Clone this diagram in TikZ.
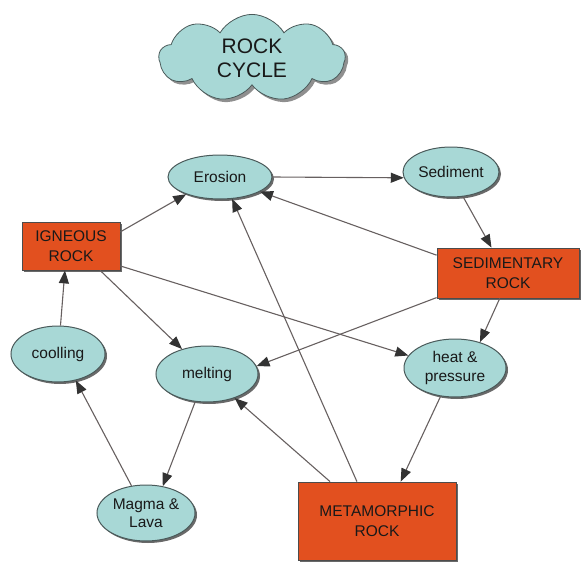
\documentclass[tikz,border=0pt]{standalone}
\usepackage{fontspec}
\setmainfont{Liberation Sans}
\usetikzlibrary{shapes.geometric,shapes.symbols,arrows.meta,shadows}
\definecolor{teal1}{HTML}{A8D8D6}
\definecolor{orng}{HTML}{E2501F}
\definecolor{edgec}{HTML}{676060}
\definecolor{bord}{HTML}{4A5A5A}
\tikzset{
  oval/.style={ellipse, draw=bord, line width=1pt, fill=teal1, inner sep=0pt,
    align=center, font=\fontsize{15.5}{18.5}\selectfont, text=black!90,
    drop shadow={shadow xshift=2pt, shadow yshift=-2pt, fill=black!65, opacity=0.9}},
  rockbox/.style={rectangle, draw=black!70, line width=0.8pt, fill=orng, inner sep=0pt,
    align=center, font=\fontsize{15.5}{20}\selectfont, text=black!90,
    drop shadow={shadow xshift=2pt, shadow yshift=-2pt, fill=black!65, opacity=0.9}},
  conn/.style={draw=edgec, line width=1.1pt,
    -{Triangle[length=13pt,width=10pt,color=black!80,fill=black!80]}},
}
\begin{document}
\begin{tikzpicture}[x=1pt,y=-1pt]
\useasboundingbox (0,0) rectangle (582,562);
\node[cloud, cloud puffs=9, cloud puff arc=120, aspect=2.1, draw=bord, line width=0.8pt,
  fill=teal1, minimum width=186pt, minimum height=86pt, align=center,
  font=\fontsize{21}{24}\selectfont, text=black!90,
  drop shadow={shadow xshift=3pt, shadow yshift=-3pt, fill=black!55, opacity=0.8}]
  (cloud) at (252,58) {ROCK\\CYCLE};

\node[oval, minimum width=104pt, minimum height=44pt] (ero) at (220,177) {Erosion};
\node[oval, minimum width=96pt, minimum height=50pt] (sed) at (451,172) {Sediment};
\node[rockbox, minimum width=98pt, minimum height=48pt] (ign) at (71,246) {IGNEOUS\\ROCK};
\node[rockbox, minimum width=142pt, minimum height=50pt] (sedr) at (508,273) {SEDIMENTARY\\ROCK};
\node[oval, minimum width=94pt, minimum height=56pt] (cool) at (58,354) {coolling};
\node[oval, minimum width=102pt, minimum height=56pt] (melt) at (207,374) {melting};
\node[oval, minimum width=102pt, minimum height=58pt] (heat) at (455,368) {heat \&\\pressure};
\node[oval, minimum width=98pt, minimum height=56pt] (magma) at (146,513) {Magma \&\\Lava};
\node[rockbox, minimum width=158pt, minimum height=78pt] (meta) at (377,521) {METAMORPHIC\\ROCK};

\draw[conn] (ign.16) -- (ero.207);
\draw[conn] (ero.east) -- (sed.187);
\draw[conn] (sed.-64) -- (sedr.123);
\draw[conn] (sedr.166) -- (ero.-20);
\draw[conn] (sedr.199) -- (melt.9);
\draw[conn] (sedr.252) -- (heat.46);
\draw[conn] (ign.-22) -- (heat.165);
\draw[conn] (ign.-40) -- (melt.135);
\draw[conn] (cool.85) -- (ign.256);
\draw[conn] (melt.247) -- (magma.58);
\draw[conn] (magma.118) -- (cool.-56);
\draw[conn] (meta.117) -- (ero.-61);
\draw[conn] (meta.140) -- (melt.-41);
\draw[conn] (heat.243) -- (meta.59);
\end{tikzpicture}
\end{document}
